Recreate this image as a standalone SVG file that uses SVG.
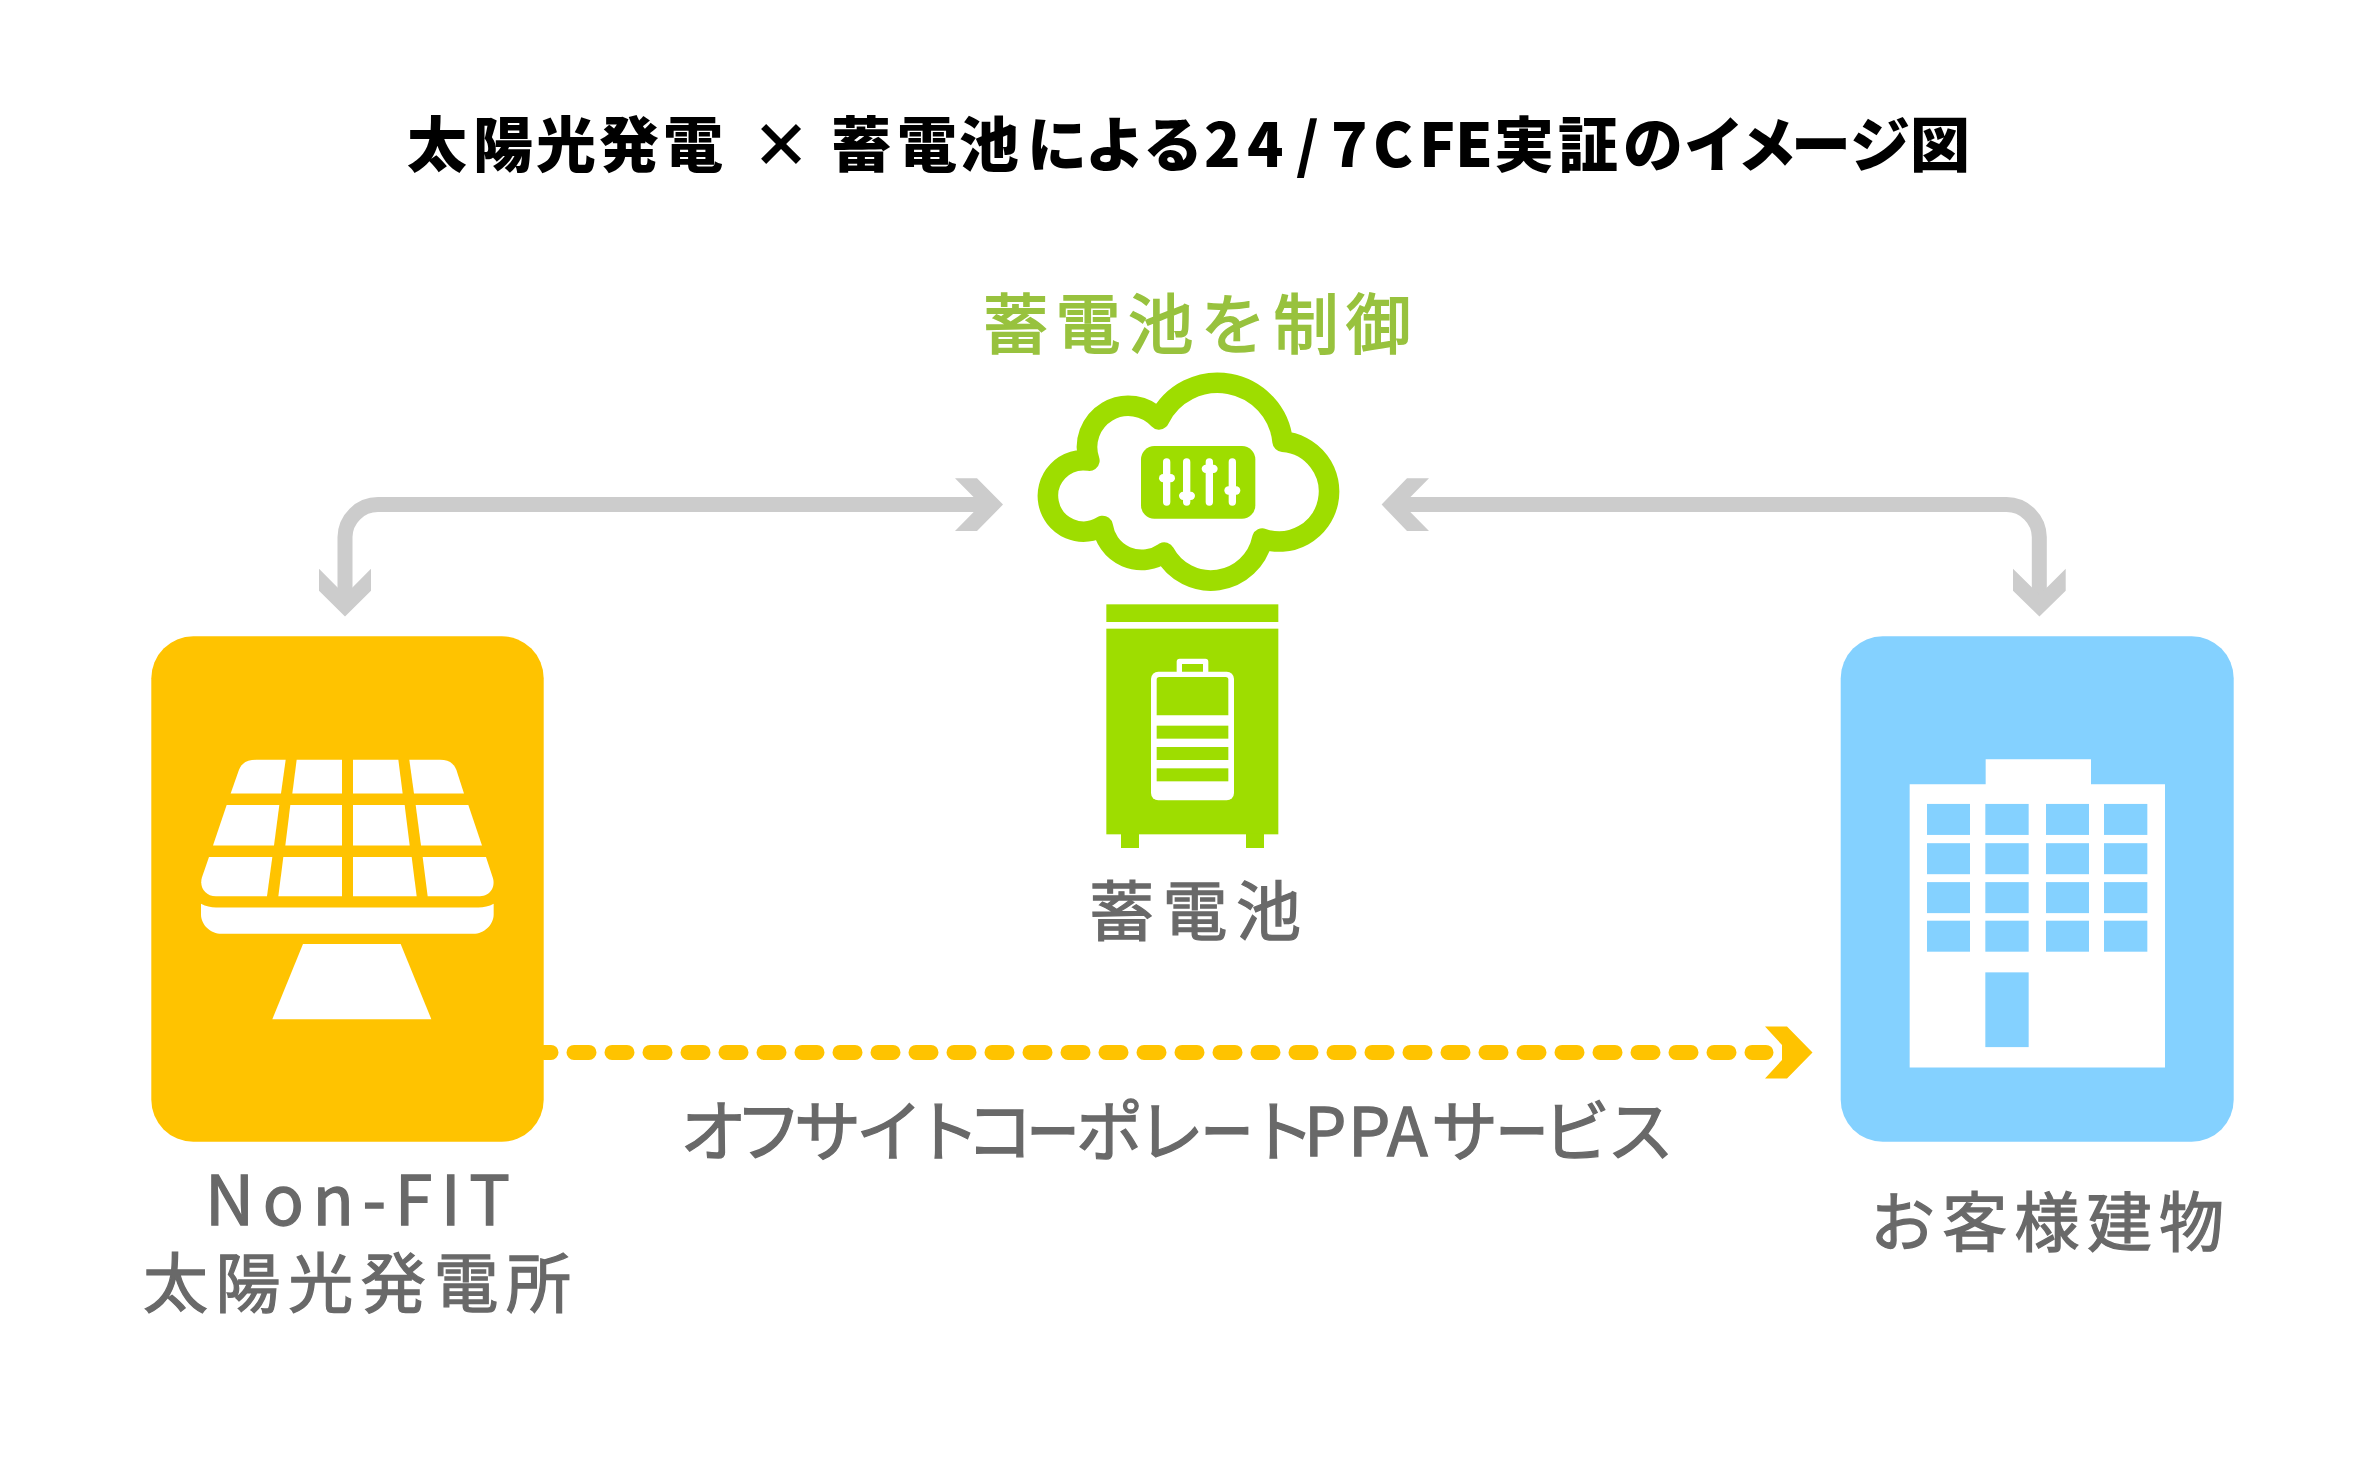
<svg xmlns="http://www.w3.org/2000/svg" width="2377" height="1480" viewBox="0 0 2377 1480">
<style>
text { font-family: "Noto Sans CJK JP", "Noto Sans", sans-serif; }
.title { font-size: 60px; font-weight: 900; fill: #000000; }
.label { font-size: 65px; font-weight: 400; fill: #696969; stroke: #696969; stroke-width: 1.3px; }
.ctrl { font-size: 65px; font-weight: 400; fill: #98C23E; stroke: #98C23E; stroke-width: 1.8px; }
.bar { font-size: 50px; stroke-width: 3px; }
.solar { fill: #FFC300; }
.lime { fill: #9EDD00; }
.sky { fill: #84D1FF; }
.white { fill: #FFFFFF; }
.link { fill: none; stroke: #CCCCCC; stroke-width: 15; }
.head { fill: #CCCCCC; }
</style>
<rect width="2377" height="1480" fill="#FFFFFF"/>

<text id="title" class="title" y="167" x="407 473 536 599 663 710 751 800 831 897 959 1027 1085 1143 1204 1247 1296 1331 1373 1419 1455 1494 1558 1623 1684 1737 1791 1850 1910">太陽光発電 × 蓄電池による24/7CFE実証のイメージ図</text>

<g id="connectors">
  <path class="link" d="M345 600 V537 A33 33 0 0 1 378 504.6 H985"/>
  <polygon class="head" points="955,478.3 977,478.3 1003,504.6 977,531 955,531 981,504.6"/>
  <polygon class="head" points="319,568.7 345,595 371,568.7 371,590.7 345,616.5 319,590.7"/>
  <path class="link" d="M2039.3 600 V537 A33 33 0 0 0 2006.5 504.6 H1400"/>
  <polygon class="head" points="1429,478.3 1407,478.3 1381.6,504.6 1407,531 1429,531 1403,504.6"/>
  <polygon class="head" points="2013,568.7 2039.4,595 2065.7,568.7 2065.7,590.7 2039.4,616.5 2013,590.7"/>
  <path d="M544 1052.4 H1766" fill="none" stroke="#FFC300" stroke-width="15" stroke-linecap="round" stroke-dasharray="15 23" stroke-dashoffset="8"/>
  <polygon class="solar" points="1765,1026.5 1787,1026.5 1812.5,1052.4 1787,1078.5 1765,1078.5 1782,1060 1782,1045"/>
</g>

<g id="plant">
  <rect class="solar" x="151.3" y="636.2" width="392.4" height="505.5" rx="42" ry="42"/>
  <g class="white" transform="translate(130 620) scale(0.33333 0.34444)">
    <path d="M467 406L453 504H302L327 435Q338 406 378 406Z"/>
    <polygon points="500,406 636,406 636,504 487,504"/>
    <polygon points="669,406 805,406 818,504 669,504"/>
    <path d="M838 406H930Q968 406 979 435L1002 504H852Z"/>
    <polygon points="290,537 448,537 432,655 249,655"/>
    <polygon points="481,537 636,537 636,655 466,655"/>
    <polygon points="669,537 824,537 839,655 669,655"/>
    <polygon points="857,537 1015,537 1056,655 873,655"/>
    <path d="M237 688H427L411 802H258C225 802 207 775 216 747Z"/>
    <polygon points="460,688 636,688 636,802 445,802"/>
    <polygon points="669,688 845,688 860,802 669,802"/>
    <path d="M878 688H1068L1088 747C1098 775 1080 802 1050 802H893Z"/>
    <path d="M213 824Q235 835 258 835H1045Q1070 835 1091 824V855C1091 885 1062 911 1030 911H275C242 911 213 885 213 855Z"/>
    <polygon points="519,941 812,941 904,1159 427,1159"/>
  </g>
  <text class="label" x="205" y="1225" style="font-size:68px" textLength="305" lengthAdjust="spacing">Non-FIT</text>
  <text class="label" x="143" y="1307" textLength="428" lengthAdjust="spacing">太陽光発電所</text>
</g>

<g id="control">
  <text class="ctrl" x="983" y="348" textLength="428" lengthAdjust="spacing">蓄電池を制御</text>
  <g transform="translate(980 350) scale(0.33333)">
    <path d="M537 208A196 196 0 0 1 908 275A150 150 0 1 1 847 566A158 158 0 0 1 553 608A118 118 0 0 1 368 528A107 107 0 1 1 328 332A124 124 0 0 1 537 208Z" fill="none" stroke="#9EDD00" stroke-width="62" stroke-linejoin="round"/>
    <rect class="lime" x="483" y="288" width="343" height="218" rx="40"/>
    <g fill="none" stroke="#FFFFFF" stroke-width="22" stroke-linecap="round">
      <path d="M560 336V456M620 336V456M688 336V456M757 336V456"/>
    </g>
    <g class="white">
      <rect x="537" y="372" width="48" height="25" rx="12.5"/>
      <rect x="597" y="425" width="48" height="25" rx="12.5"/>
      <rect x="665" y="344" width="48" height="25" rx="12.5"/>
      <rect x="733" y="409" width="48" height="25" rx="12.5"/>
    </g>
  </g>
</g>

<g id="battery">
  <g transform="translate(980 350) scale(0.33333)">
    <rect class="lime" x="379" y="763" width="516" height="53"/>
    <rect class="lime" x="379" y="836" width="516" height="617"/>
    <rect class="lime" x="423" y="1450" width="54" height="44"/>
    <rect class="lime" x="798" y="1450" width="54" height="44"/>
    <rect class="white" x="590" y="926" width="95" height="60" rx="9"/>
    <rect class="lime" x="606" y="942" width="63" height="24"/>
    <rect class="white" x="513" y="965" width="249" height="386" rx="22"/>
    <path class="lime" d="M538 981H737Q745 981 745 989V1096H530V989Q530 981 538 981Z"/>
    <rect class="lime" x="530" y="1127" width="215" height="39"/>
    <rect class="lime" x="530" y="1191" width="215" height="39"/>
    <rect class="lime" x="530" y="1255" width="215" height="39"/>
  </g>
  <text class="label" x="1089" y="935" textLength="212" lengthAdjust="spacing">蓄電池</text>
</g>

<g id="customer">
  <rect class="sky" x="1840.7" y="636.2" width="393" height="505.5" rx="42" ry="42"/>
  <g transform="translate(1820 620) scale(0.33333 0.34444)">
    <polygon class="white" points="269,477 497,477 497,404 813,404 813,477 1035,477 1035,1299 269,1299"/>
    <g class="sky">
      <rect x="321" y="534" width="129" height="90"/><rect x="496" y="534" width="130" height="90"/><rect x="678" y="534" width="129" height="90"/><rect x="852" y="534" width="130" height="90"/>
      <rect x="321" y="648" width="129" height="90"/><rect x="496" y="648" width="130" height="90"/><rect x="678" y="648" width="129" height="90"/><rect x="852" y="648" width="130" height="90"/>
      <rect x="321" y="761" width="129" height="90"/><rect x="496" y="761" width="130" height="90"/><rect x="678" y="761" width="129" height="90"/><rect x="852" y="761" width="130" height="90"/>
      <rect x="321" y="873" width="129" height="90"/><rect x="496" y="873" width="130" height="90"/><rect x="678" y="873" width="129" height="90"/><rect x="852" y="873" width="130" height="90"/>
      <rect x="496" y="1023" width="130" height="217"/>
    </g>
  </g>
  <text class="label" x="1870" y="1246" textLength="354" lengthAdjust="spacing">お客様建物</text>
</g>

<text id="service" class="label" style="font-size:67px" y="1156" x="680 735 794 856 913 966">オフサイトコ<tspan class="bar" x="1028" dy="-6.5">ー</tspan><tspan dy="6.5" x="1076 1137">ポレ</tspan><tspan class="bar" x="1202" dy="-6.5">ー</tspan><tspan dy="6.5" x="1248 1304 1348 1387 1431">トPPAサ</tspan><tspan class="bar" x="1497" dy="-6.5">ー</tspan><tspan dy="6.5" x="1543 1607">ビス</tspan></text>
</svg>
